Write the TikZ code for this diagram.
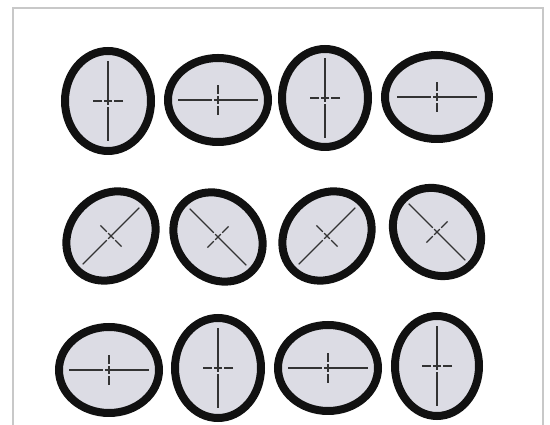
\documentclass[tikz,border=0pt]{standalone}
\definecolor{lensfill}{HTML}{DCDCE4}
\definecolor{rimcol}{HTML}{111111}
\definecolor{hair}{HTML}{333333}
\definecolor{framecol}{HTML}{C8C8C8}
\tikzset{
  rim/.style={draw=rimcol, line width=8pt, fill=lensfill},
  longhair/.style={draw=hair, line width=1.2pt, dash pattern=on 34pt off 2pt on 60pt},
  shorthair/.style={draw=hair, line width=1.2pt, dash pattern=on 9pt off 2pt on 8pt off 2pt on 20pt},
}
\begin{document}
\begin{tikzpicture}[x=1pt,y=1pt]
  \useasboundingbox (0,0) rectangle (550,425);
  % frame
  \draw[framecol, line width=1.8pt] (13,0) -- (13,417) -- (543,417) -- (543,0);
  % lenses: x, y, angle, major, minor
  \foreach \cx/\cy/\ang/\ra/\rb in {
      108/324/90/50/43, 218/325/0/50/42, 325/327/90/49/43, 437/328/0/52/42,
      111/189/45/48/41, 218/188/-45/48/41, 327/189/45/48/41, 437/193/-45/47/41,
      109/55/0/50/43, 218/57/90/50/43, 328/57/0/50/43, 437/59/90/50/42} {
    \begin{scope}[shift={(\cx,\cy)}, rotate=\ang]
      \draw[rim] (0,0) ellipse [x radius=\ra pt, y radius=\rb pt];
      \draw[longhair] (-40,0) -- (40,0);
      \draw[shorthair] (0,-15) -- (0,15);
    \end{scope}
  }
\end{tikzpicture}
\end{document}
